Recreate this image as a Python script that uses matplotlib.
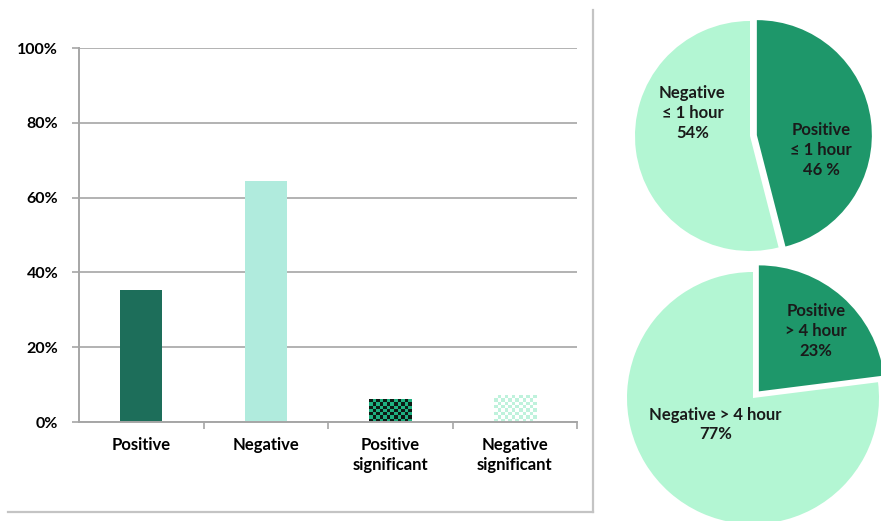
import numpy as np
import matplotlib.pyplot as plt
from matplotlib.colors import ListedColormap

plt.rcParams['font.family'] = ['Lato', 'DejaVu Sans']
plt.rcParams['font.weight'] = 'bold'

# bar chart data
categories = ["Positive", "Negative", "Positive\nsignificant", "Negative\nsignificant"]
shares = [0.354, 0.645, 0.061, 0.072]
bar_colors = ["#1d6e5a", "#b0ebdd", None, None]
checker_colors = [None, None, ("#0d1a14", "#1fb080"), ("#ffffff", "#bff2dc")]
yticks = [0, 0.2, 0.4, 0.6, 0.8, 1.0]
ytick_labels = ["0%", "20%", "40%", "60%", "80%", "100%"]

# pie data
pie1_values = [46, 54]
pie1_labels = ["Positive\n≤ 1 hour\n46 %", "Negative\n≤ 1 hour\n54%"]
pie2_values = [23, 77]
pie2_labels = ["Positive\n> 4 hour\n23%", "Negative > 4 hour\n77%"]
pie_colors = ["#1e976a", "#b3f6d3"]

fig = plt.figure(figsize=(8.81, 5.21), dpi=100)
W, H = 881, 521

def px_axes(left, top, right, bottom):
    return fig.add_axes([left / W, 1 - bottom / H, (right - left) / W, (bottom - top) / H])

# outer frame (right and bottom lines)
frame = px_axes(8, 10, 593, 512)
frame.set_xticks([])
frame.set_yticks([])
frame.patch.set_alpha(0)
for s in ["top", "left"]:
    frame.spines[s].set_visible(False)
for s in ["right", "bottom"]:
    frame.spines[s].set_color("#c4c4c4")
    frame.spines[s].set_linewidth(1.6)

# bar chart
ax = px_axes(79, 48, 577, 422)
ax.set_xlim(-0.5, 3.5)
ax.set_ylim(0, 1)
x = np.arange(len(categories))
grey = "#a6a6a6"
ax.set_yticks(yticks)
ax.set_yticklabels(ytick_labels, fontsize=11.5)
ax.yaxis.grid(True, color=grey, linewidth=1.2)
ax.set_axisbelow(True)
ax.tick_params(axis="y", length=5, color=grey, width=1.2, pad=10)
ax.set_xticks(x)
ax.set_xticklabels(categories, fontsize=12, linespacing=1.25, va="top")
ax.tick_params(axis="x", which="major", length=0, pad=11)
ax.set_xticks(list(x[:-1] + 0.5) + [3.5], minor=True)
ax.tick_params(axis="x", which="minor", length=5, color=grey, width=1.2)
for s in ["top", "right"]:
    ax.spines[s].set_visible(False)
for s in ["left", "bottom"]:
    ax.spines[s].set_color(grey)
    ax.spines[s].set_linewidth(1.4)

bars = ax.bar(x, shares, width=0.34, color=[c if c else "none" for c in bar_colors], zorder=2)
fig.canvas.draw()
for b, cc in zip(bars, checker_colors):
    if cc is None:
        continue
    x0, y0, w, h = b.get_x(), b.get_y(), b.get_width(), b.get_height()
    p0 = ax.transData.transform((x0, y0))
    p1 = ax.transData.transform((x0 + w, y0 + h))
    nx = max(int(round((p1[0] - p0[0]) / 3.5)), 1)
    ny = max(int(round((p1[1] - p0[1]) / 3.5)), 1)
    grid = (np.add.outer(np.arange(ny), np.arange(nx)) % 2).astype(float)
    ax.imshow(grid, cmap=ListedColormap(list(cc)), extent=(x0, x0 + w, y0, y0 + h),
              aspect="auto", interpolation="nearest", zorder=2)
ax.set_xlim(-0.5, 3.5)
ax.set_ylim(0, 1)

# pies
def draw_pie(box, values, labels, explode, label_pos):
    pax = px_axes(*box)
    wedges, _ = pax.pie(values, colors=pie_colors, startangle=90, counterclock=False,
                        explode=[explode, 0], radius=1)
    for w in wedges:
        w.set_clip_on(False)
    for lab, (lx, ly) in zip(labels, label_pos):
        pax.text(lx, ly, lab, ha="center", va="center", fontsize=12,
                 color="#1a1a1a", linespacing=1.3)
    pax.set_xlim(-1, 1)
    pax.set_ylim(-1, 1)
    pax.set_aspect("equal")
    pax.axis("off")

draw_pie((635, 21, 865, 251), pie1_values, pie1_labels, 0.06,
         [(0.62, -0.12), (-0.5, 0.2)])
draw_pie((627, 272, 879, 524), pie2_values, pie2_labels, 0.07,
         [(0.5, 0.53), (-0.3, -0.21)])

fig.savefig("out.png", dpi=100)
